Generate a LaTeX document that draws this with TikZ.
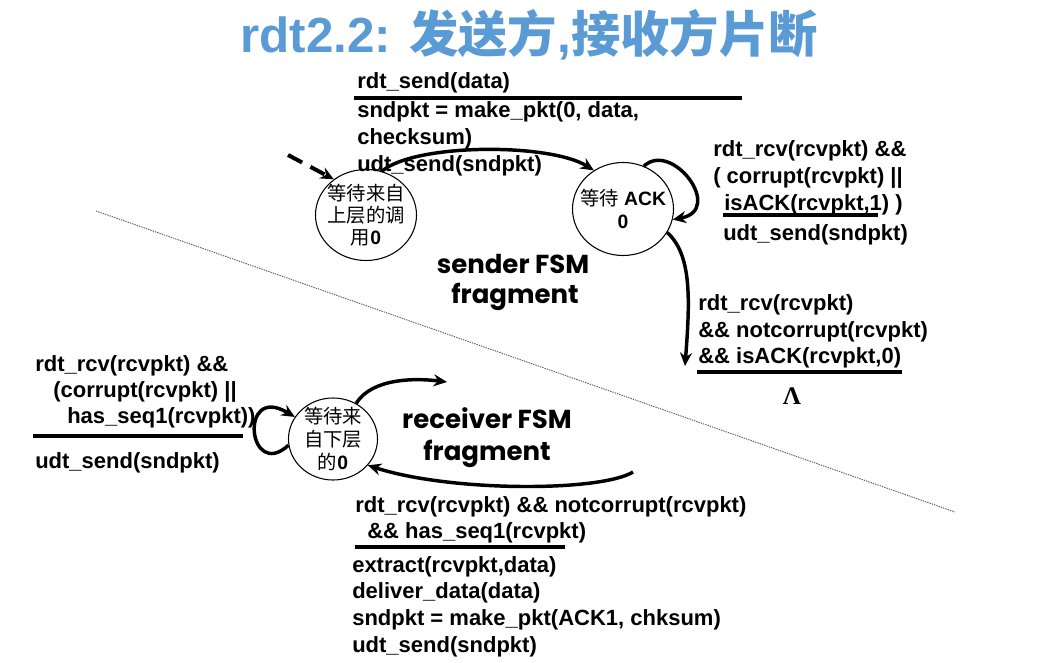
\documentclass[tikz,border=0pt]{standalone}
\usepackage{fontspec}
\usepackage{graphicx}
\setmainfont{Liberation Sans}
\newfontfamily\cjk{Noto Sans CJK SC}
\newfontfamily\comic{Poppins}
\newfontfamily\serifgr{Liberation Serif}
\usetikzlibrary{shapes.geometric,arrows.meta}
\definecolor{titleblue}{RGB}{91,155,213}
\begin{document}
\begin{tikzpicture}[x=0.75pt,y=-0.75pt,
  lbl/.style={anchor=base west,inner sep=0pt,font=\fontsize{16.5}{20}\selectfont\bfseries},
  fsmstate/.style={ellipse,draw,line width=0.8pt,inner sep=0pt},
  statetext/.style={inner sep=0pt,align=center,font=\fontsize{14.5}{16.5}\selectfont},
  fsmlabel/.style={anchor=base,inner sep=0pt,font=\comic\fontsize{19.5}{22}\selectfont\bfseries},
  arr/.style={line width=2.6pt,-{Stealth[length=10pt,width=9pt]}},
  rulebar/.style={line width=2.6pt}]
\useasboundingbox (0,0) rectangle (1046,663);
% title
\node[anchor=base west,inner sep=0pt,text=titleblue,font=\fontsize{37}{40}\selectfont\bfseries] (title) at (240,53)
  {rdt2.2: {\cjk 发送方},{\cjk 接收方片断}};
% divider
\draw[gray!70!black,line width=0.7pt,dash pattern=on 1pt off 0.8pt] (96,211) -- (955,512);
% states
\node[fsmstate,minimum width=75.75pt,minimum height=68.25pt] (s1) at (366,215) {};
\node[statetext] (s1t) at (s1) {{\cjk 等待来自}\\{\cjk 上层的调}\\{\cjk 用}\textbf{0}};
\node[fsmstate,minimum width=75.75pt,minimum height=69.75pt] (s2) at (623,209) {};
\node[statetext,font=\fontsize{14.5}{17}\selectfont] (s2t) at (s2) {{\cjk 等待} \textbf{ACK}\\\textbf{0}};
\node[fsmstate,minimum width=66.75pt,minimum height=61.5pt] (s3) at (333,439) {};
\node[statetext,font=\fontsize{14.5}{17}\selectfont] (s3t) at (s3) {{\cjk 等待来}\\{\cjk 自下层}\\{\cjk 的}\textbf{0}};
% free ends
\coordinate (init) at (288,155);
\coordinate (ackend) at (685,366);
\coordinate (rcvout) at (447,382);
\coordinate (rcvin) at (633,472);
% arrows
\draw[line width=3pt,dash pattern=on 12pt off 7pt,-{Stealth[length=10pt,width=9pt]}] (init) -- (s1.132);
\draw[arr] (s1.70) .. controls (415,143) and (550,143) .. (s2.127);
\draw[arr] (s2.64) .. controls (672,140) and (725,210) .. (s2.-12);
\draw[arr] (s2.-28) .. controls (692,255) and (690,300) .. (ackend);
\draw[arr] (s3.188) .. controls (248,482) and (238,383) .. (s3.150);
\draw[arr] (s3.57) .. controls (372,378) and (415,378) .. (rcvout);
\draw[arr] (rcvin) .. controls (600,492) and (450,492) .. (s3.-37);
% sender top transition
\node[lbl] (a1) at (357,89) {rdt\_send(data)};
\draw[rulebar] (354,98) -- (742,98);
\node[lbl] (a2) at (357,118) {sndpkt = make\_pkt(0, data,};
\node[lbl] (a3) at (357,145) {checksum)};
\node[lbl] (a4) at (357,172) {udt\_send(sndpkt)};
% sender self loop
\node[lbl] (b1) at (713,157) {rdt\_rcv(rcvpkt) \&\&};
\node[lbl] (b2) at (713,184) {( corrupt(rcvpkt) ||};
\node[lbl] (b3) at (724,210) {isACK(rcvpkt,1) )};
\draw[line width=2.4pt] (723,215) -- (878,215);
\node[lbl] (b4) at (723,240) {udt\_send(sndpkt)};
% sender down transition
\node[lbl] (c1) at (698,310) {rdt\_rcv(rcvpkt)};
\node[lbl] (c2) at (698,337) {\&\& notcorrupt(rcvpkt)};
\node[lbl] (c3) at (698,363) {\&\& isACK(rcvpkt,0)};
\draw[rulebar] (697,372) -- (902,372);
\node[inner sep=0pt,font=\serifgr\fontsize{19}{19}\selectfont\bfseries] (lam) at (792,396) {Λ};
% FSM labels
\node[fsmlabel] (sf1) at (513,273) {sender FSM};
\node[fsmlabel] (sf2) at (515,303) {fragment};
\node[fsmlabel] (rf1) at (487,428) {receiver FSM};
\node[fsmlabel] (rf2) at (487,460) {fragment};
% receiver self loop
\node[lbl] (d1) at (35,371) {rdt\_rcv(rcvpkt) \&\&};
\node[lbl] (d2) at (53,397) {(corrupt(rcvpkt) ||};
\node[lbl] (d3) at (67,423) {has\_seq1(rcvpkt))};
\draw[rulebar] (33,436) -- (243,436);
\node[lbl] (d4) at (35,468) {udt\_send(sndpkt)};
% receiver bottom transition
\node[lbl] (e1) at (355,512) {rdt\_rcv(rcvpkt) \&\& notcorrupt(rcvpkt)};
\node[lbl] (e2) at (367,538) {\&\& has\_seq1(rcvpkt)};
\draw[rulebar] (355,547) -- (565,547);
\node[lbl] (e3) at (352,572) {extract(rcvpkt,data)};
\node[lbl] (e4) at (352,598) {deliver\_data(data)};
\node[lbl] (e5) at (352,625) {sndpkt = make\_pkt(ACK1, chksum)};
\node[lbl] (e6) at (352,652) {udt\_send(sndpkt)};
\end{tikzpicture}
\end{document}
